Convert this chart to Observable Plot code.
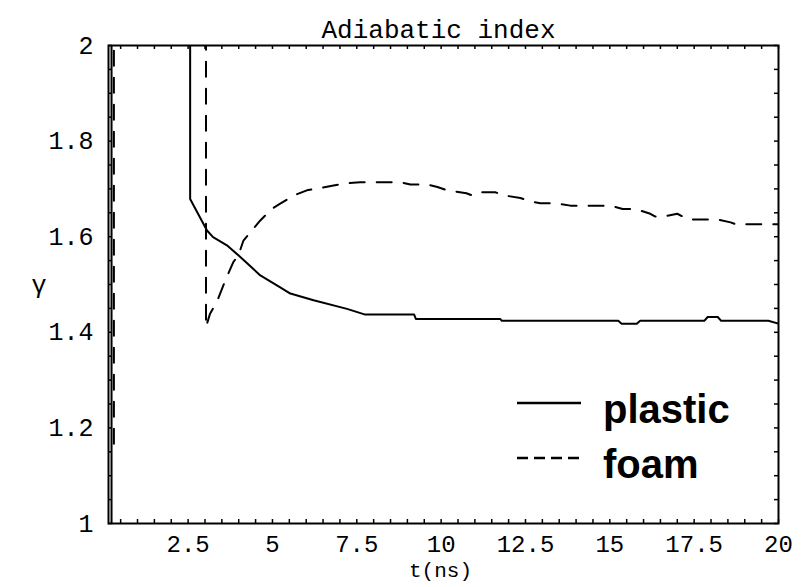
<!DOCTYPE html>
<html>
<head>
<meta charset="utf-8">
<script src="https://cdn.jsdelivr.net/npm/d3@7"></script>
<script src="https://cdn.jsdelivr.net/npm/@observablehq/plot@0.6"></script>
<style>
  html, body { margin: 0; padding: 0; background: white; }
</style>
</head>
<body>
<div id="chart"></div>
<script>
// Adiabatic index γ versus time t (ns) for the plastic and foam layers.
// Values above γ = 2 are off-scale and get clipped by the frame.
const plasticT = [0.23, 0.23, 2.56, 2.56, 3.06, 3.24, 3.65, 3.99, 4.64, 5.23, 5.53, 6.22, 7.21, 7.75,
  9.2, 9.25, 11.75, 11.8, 15.25, 15.35, 15.8, 15.9, 17.8, 17.9, 18.2, 18.3, 19.7, 20];
const plasticGamma = [1.0, 2.6, 2.6, 1.679, 1.613, 1.599, 1.582, 1.561, 1.519, 1.494, 1.481, 1.467, 1.449, 1.437,
  1.437, 1.428, 1.428, 1.424, 1.424, 1.418, 1.418, 1.424, 1.424, 1.432, 1.432, 1.424, 1.424, 1.418];

const foamT = [0.3, 0.3, 3.03, 3.03, 3.15, 3.35, 3.6, 3.84, 3.99, 4.14, 4.64, 4.98, 5.23, 5.62, 6.02,
  6.81, 7.11, 7.6, 8.79, 9.09, 9.59, 9.89, 10.18, 10.75, 10.93, 11.16, 11.6, 11.9, 12.35, 12.65, 12.94,
  13.39, 13.83, 15.02, 15.38, 15.76, 16.2, 16.35, 16.59, 17.0, 17.33, 18.19, 18.58, 18.73, 20];
const foamGamma = [1.167, 2.6, 2.6, 1.411, 1.439, 1.463, 1.508, 1.547, 1.561, 1.592, 1.634, 1.658, 1.669, 1.686, 1.697,
  1.707, 1.711, 1.714, 1.714, 1.709, 1.709, 1.704, 1.697, 1.691, 1.686, 1.693, 1.693, 1.686, 1.681, 1.674, 1.670,
  1.670, 1.665, 1.665, 1.658, 1.658, 1.648, 1.642, 1.642, 1.648, 1.636, 1.636, 1.630, 1.626, 1.626];

const xTickValues = [2.5, 5, 7.5, 10, 12.5, 15, 17.5, 20];
const yTickValues = [1, 1.2, 1.4, 1.6, 1.8, 2];
const seriesNames = ["plastic", "foam"];

const plastic = plasticT.map((t, i) => ({t, gamma: plasticGamma[i]}));
const foam = foamT.map((t, i) => ({t, gamma: foamGamma[i]}));

const width = 801, height = 587;
const margin = {left: 108, right: 23, top: 45, bottom: 64};
const frameW = width - margin.left - margin.right;
const frameH = height - margin.top - margin.bottom;
const tickLen = 4;
const mono = "'Liberation Mono', 'DejaVu Sans Mono', monospace";

// small frame ticks on all four sides, pointing inward
const xMinor = d3.range(0.5, 20.001, 0.5);
const yMinor = d3.range(0, 21).map(i => 1 + i * 0.05);
const fmt = d3.format("~g");

const chart = Plot.plot({
  width, height,
  marginLeft: margin.left, marginRight: margin.right,
  marginTop: margin.top, marginBottom: margin.bottom,
  style: {background: "white", color: "black", fontFamily: mono},
  x: {domain: [0.14, 20]},
  y: {domain: [1, 2]},
  marks: [
    Plot.ruleX(xMinor, {x: d => d, insetTop: frameH - tickLen, stroke: "black", strokeWidth: 1.5}),
    Plot.ruleX(xMinor, {x: d => d, insetBottom: frameH - tickLen, stroke: "black", strokeWidth: 1.5}),
    Plot.ruleY(yMinor, {y: d => d, insetRight: frameW - tickLen, stroke: "black", strokeWidth: 1.5}),
    Plot.ruleY(yMinor, {y: d => d, insetLeft: frameW - tickLen, stroke: "black", strokeWidth: 1.5}),
    Plot.line(plastic, {x: "t", y: "gamma", stroke: "black", strokeWidth: 2, clip: true}),
    Plot.line(foam, {x: "t", y: "gamma", stroke: "black", strokeWidth: 2, strokeDasharray: "15,12", clip: true}),
    Plot.frame({stroke: "black", strokeWidth: 2}),
    Plot.axisX(xTickValues, {tickSize: 0, tickPadding: 11, tickFormat: fmt, fontSize: 24, fontFamily: mono, label: null}),
    Plot.axisY(yTickValues, {tickSize: 0, tickPadding: 15, tickFormat: fmt, fontSize: 25, fontFamily: mono, label: null}),
    Plot.text(["Adiabatic index"], {frameAnchor: "top", dx: -5, dy: -26, fontSize: 26, fontFamily: mono}),
    Plot.text(["t(ns)"], {frameAnchor: "bottom", dx: -3, dy: 53, fontSize: 21, fontFamily: mono}),
    Plot.text(["γ"], {frameAnchor: "left", dx: -77, dy: 0, fontSize: 25, fontFamily: mono})
  ]
});

// legend in the lower right of the frame
const legend = d3.select(chart).append("g")
  .attr("transform", `translate(${margin.left + frameW - 262},${margin.top + frameH - 120})`);
const dashes = [null, "11,6"];
seriesNames.forEach((name, i) => {
  const y = i * 55;
  legend.append("line")
    .attr("x1", 1).attr("x2", 65).attr("y1", y).attr("y2", y)
    .attr("stroke", "black").attr("stroke-width", 2.5)
    .attr("stroke-dasharray", dashes[i]);
  legend.append("text")
    .attr("x", 87).attr("y", y + 20)
    .attr("text-anchor", "start")
    .attr("font-family", "'Liberation Sans', Arial, Helvetica, sans-serif")
    .attr("font-weight", "bold").attr("font-size", 40)
    .attr("fill", "black")
    .text(name);
});

document.getElementById("chart").appendChild(chart);
</script>
</body>
</html>
